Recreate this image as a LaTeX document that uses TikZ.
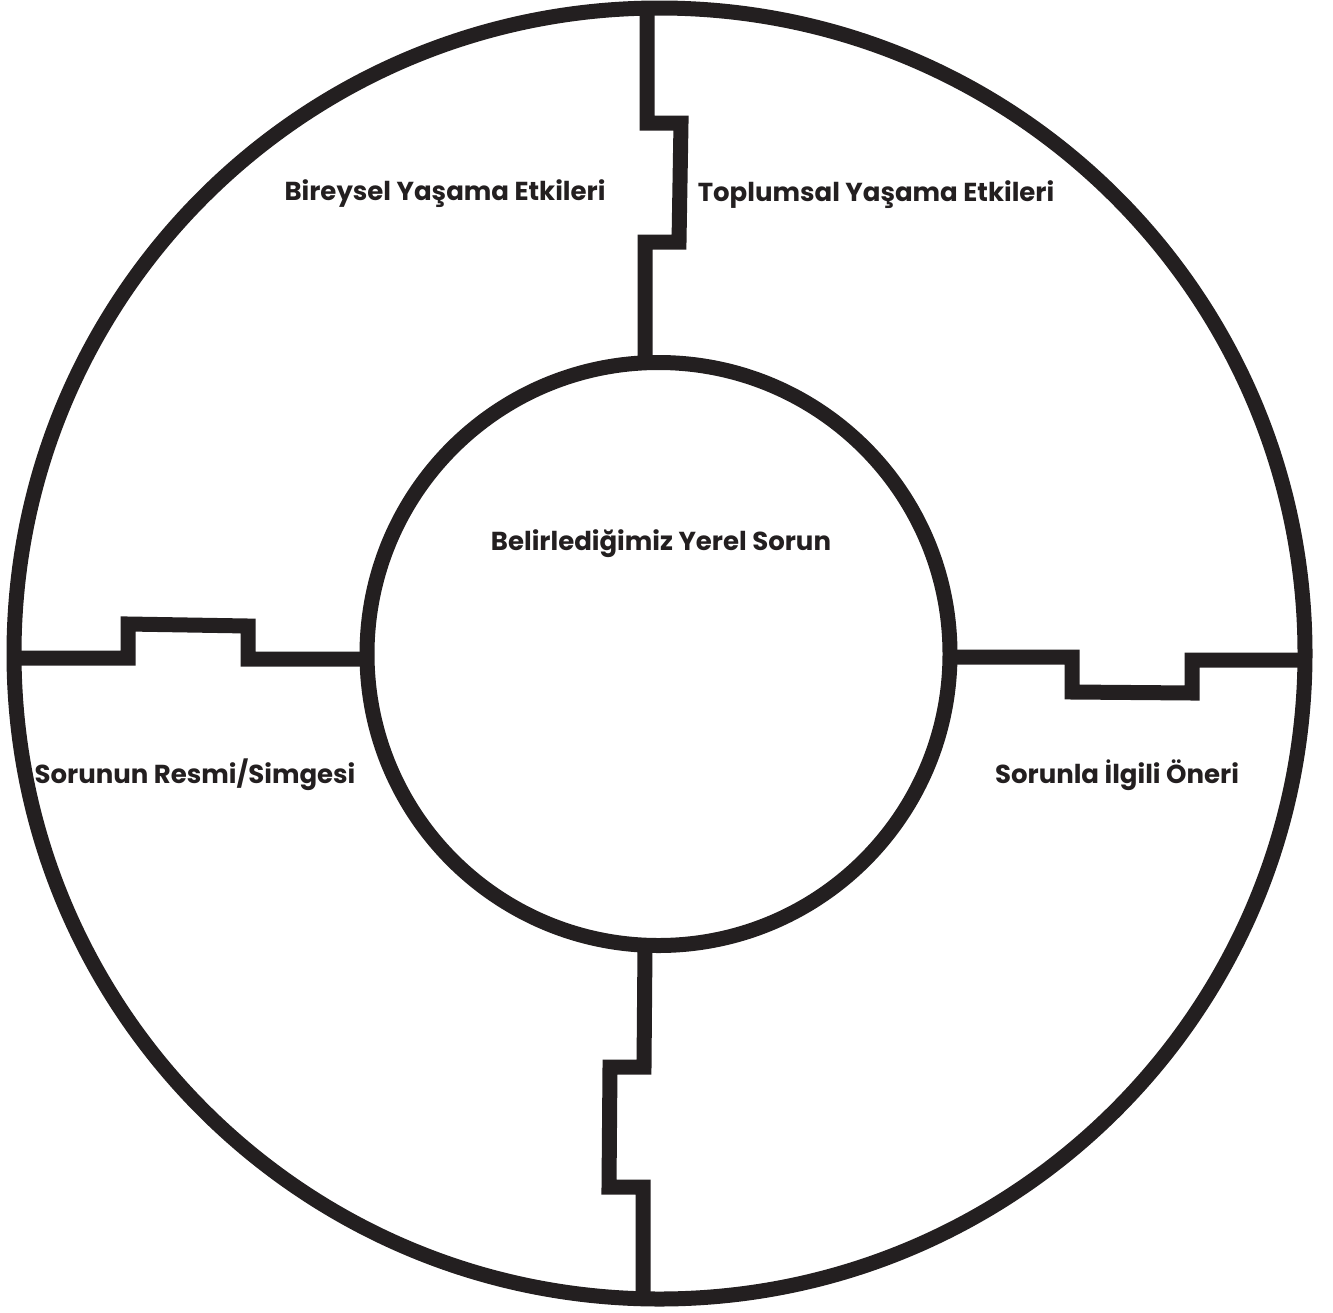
\documentclass[tikz,border=0pt]{standalone}
\usepackage{fontspec}
\setmainfont{Poppins}
\definecolor{ink}{HTML}{231F20}
\begin{document}
\begin{tikzpicture}[x=0.5pt,y=-0.5pt,
  ring/.style={draw=ink,line width=7.5pt},
  wall/.style={draw=ink,line width=7.5pt,line join=miter},
  lbl/.style={font=\fontsize{13}{15}\selectfont\bfseries,text=ink,inner sep=0pt,anchor=base}]
\useasboundingbox (0,0) rectangle (1333,1312);
\coordinate (oc) at (659.5,653.5);
\coordinate (ic) at (658.5,654);
\draw[ring] (oc) circle (645.5);
\draw[ring] (ic) circle (291.5);
% connectors
\coordinate (t0) at (647,8);
\coordinate (t5) at (645,362);
\draw[wall] (t0) -- (647,123) -- (681,123) -- (679,242) -- (645,242) -- (t5);
\coordinate (l0) at (14,658);
\coordinate (l5) at (367,659);
\draw[wall] (l0) -- (128,658) -- (128,624) -- (248,626) -- (248,659) -- (l5);
\coordinate (r0) at (950,657);
\coordinate (r5) at (1305,660);
\draw[wall] (r0) -- (1072,657) -- (1072,692) -- (1192,693) -- (1192,660) -- (r5);
\coordinate (b0) at (645,946);
\coordinate (b5) at (643,1299);
\draw[wall] (b0) -- (644,1067) -- (610,1067) -- (609,1187) -- (643,1187) -- (b5);
% labels
\node[lbl] (bir) at (445,200) {Bireysel Yaşama Etkileri};
\node[lbl] (top) at (876,201) {Toplumsal Yaşama Etkileri};
\node[lbl] (bel) at (661,550) {Belirlediğimiz Yerel Sorun};
\node[lbl] (res) at (195,783) {Sorunun Resmi/Simgesi};
\node[lbl] (one) at (1117,783) {Sorunla İlgili Öneri};
\end{tikzpicture}
\end{document}
